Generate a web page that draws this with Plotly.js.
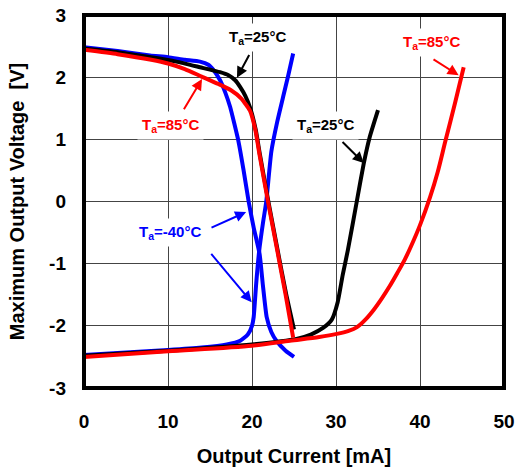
<!DOCTYPE html>
<html>
<head>
<meta charset="utf-8">
<script src="https://cdn.plot.ly/plotly-3.0.1.min.js"></script>
<style>html,body{margin:0;padding:0;background:#fff;}#chart{width:518px;height:471px;}</style>
</head>
<body>
<div id="chart"></div>
<script>
// ---- data ----
// Source side (voltage falling with current)
const blueSrcX  = [0, 4, 7.86, 10, 12, 13.8, 14.8, 15.5, 16.2, 16.8, 17.4, 17.9, 18.37, 19.0, 19.6, 20.2, 20.9, 21.3, 21.75, 22.3, 22.9, 24.0, 25.0];
const blueSrcY  = [2.48, 2.42, 2.35, 2.32, 2.28, 2.25, 2.2, 2.1, 1.95, 1.76, 1.52, 1.25, 0.98, 0.5, 0.0, -0.42, -0.84, -1.35, -1.86, -2.1, -2.24, -2.4, -2.5];
const blackSrcX = [0, 4, 8, 11, 13.8, 16.2, 17.2, 18.0, 18.6, 19.2, 19.8, 20.45, 20.95, 21.95, 23.1, 24.05, 25.0];
const blackSrcY = [2.46, 2.4, 2.32, 2.25, 2.16, 2.08, 2.03, 1.95, 1.84, 1.7, 1.5, 1.15, 0.75, 0.0, -0.82, -1.48, -2.06];
const redSrcX   = [0, 4, 8, 10, 12, 14, 16, 17.5, 18.7, 19.76, 20.4, 20.9, 21.9, 23.05, 24.0, 24.9];
const redSrcY   = [2.44, 2.37, 2.28, 2.22, 2.13, 2.01, 1.89, 1.79, 1.66, 1.46, 1.15, 0.75, 0.0, -0.82, -1.5, -2.19];
// Sink side (voltage rising with current)
const blueSnkX  = [0, 5, 10, 14, 17, 18.6, 19.5, 20.0, 20.2, 20.5, 20.85, 21.3, 21.7, 22.3, 23.0, 23.7, 24.3, 24.9];
const blueSnkY  = [-2.47, -2.43, -2.39, -2.35, -2.3, -2.24, -2.14, -2.0, -1.86, -1.32, -0.8, -0.35, 0.0, 0.8, 1.28, 1.68, 2.02, 2.38];
const blackSnkX = [0, 10, 20, 25.3, 27.0, 28.5, 29.5, 30.2, 30.8, 31.4, 32.5, 33.3, 34.0, 35.0];
const blackSnkY = [-2.48, -2.4, -2.3, -2.21, -2.14, -2.03, -1.9, -1.62, -1.18, -0.79, 0.02, 0.61, 1.03, 1.47];
const redSnkX   = [0, 10, 20, 24.5, 28, 30.1, 31.5, 32.5, 33.5, 34.5, 35.4, 36.4, 37.3, 38.2, 39.0, 40.0, 41.2, 42.1, 43.0, 44.2, 45.2];
const redSnkY   = [-2.5, -2.41, -2.32, -2.24, -2.18, -2.13, -2.08, -2.02, -1.9, -1.74, -1.57, -1.36, -1.15, -0.93, -0.7, -0.38, 0.07, 0.47, 0.96, 1.6, 2.16];

const xTicks = [0, 10, 20, 30, 40, 50];
const yTicks = [-3, -2, -1, 0, 1, 2, 3];
const xTitle = 'Output Current [mA]';
const yTitle = 'Maximum Output Voltage\u00a0\u00a0[V]';
const lbl25 = 'T<sub>a</sub>=25°C';
const lbl85 = 'T<sub>a</sub>=85°C';
const lblM40 = 'T<sub>a</sub>=-40°C';

const BLUE = '#0000ff', RED = '#ff0000', BLACK = '#000000';
const FONT = '"Liberation Sans", Arial, sans-serif';

function tr(x, y, c, sm) {
  return {x: x, y: y, type: 'scatter', mode: 'lines',
          line: {color: c, width: 4, shape: 'spline', smoothing: sm},
          hoverinfo: 'skip', showlegend: false};
}
const data = [
  tr(blueSrcX, blueSrcY, BLUE, 0.5), tr(blueSnkX, blueSnkY, BLUE, 0.5),
  tr(blackSrcX, blackSrcY, BLACK, 0.5), tr(blackSnkX, blackSnkY, BLACK, 0.5),
  tr(redSrcX, redSrcY, RED, 0.5), tr(redSnkX, redSnkY, RED, 0.8)
];

function label(text, x, y, c) {
  return {text: text, x: x, y: y, xref: 'x', yref: 'y', showarrow: false,
          bgcolor: '#ffffff', borderpad: 4,
          font: {family: FONT, size: 15, color: c, weight: 'bold'}};
}
function arrow(tx, ty, hx, hy, c) {
  return {text: '', x: hx, y: hy, ax: tx, ay: ty, xref: 'x', yref: 'y', axref: 'x', ayref: 'y',
          showarrow: true, arrowhead: 2, arrowsize: 1.1, arrowwidth: 2, arrowcolor: c, standoff: 0};
}

const annotations = [
  label(lbl25, 20.6, 2.64, BLACK),
  label(lbl85, 10.24, 1.22, RED),
  label(lblM40, 10.24, -0.5, BLUE),
  label(lbl25, 28.7, 1.22, BLACK),
  label(lbl85, 41.4, 2.56, RED),
  arrow(19.76, 2.38, 18.21, 1.99, BLACK),
  arrow(11.79, 1.46, 14.05, 1.97, RED),
  arrow(15.0, -0.43, 19.3, -0.17, BLUE),
  arrow(15.0, -0.82, 19.96, -1.62, BLUE),
  arrow(30.6, 0.98, 33.3, 0.62, BLACK),
  arrow(41.43, 2.3, 44.6, 2.03, RED)
];

const axisCommon = {
  showgrid: true, gridcolor: '#444444', gridwidth: 1, zeroline: false,
  showline: false, ticks: '', automargin: false,
  tickfont: {family: FONT, size: 19, color: '#000', weight: 'bold'}
};

const layout = {
  width: 518, height: 471,
  margin: {l: 84, r: 14, t: 15, b: 83},
  paper_bgcolor: '#ffffff', plot_bgcolor: '#ffffff',
  showlegend: false,
  xaxis: Object.assign({}, axisCommon, {
    range: [0, 50], tickvals: xTicks, ticktext: xTicks.map(String),
    ticklabelstandoff: 20,
    title: {text: xTitle, standoff: 17, font: {family: FONT, size: 20, color: '#000', weight: 'bold'}}
  }),
  yaxis: Object.assign({}, axisCommon, {
    range: [-3, 3], tickvals: yTicks, ticktext: yTicks.map(String),
    ticklabelstandoff: 17,
    title: {text: yTitle, standoff: 19, font: {family: FONT, size: 20, color: '#000', weight: 'bold'}}
  }),
  shapes: [{type: 'rect', xref: 'paper', yref: 'paper', x0: 0, x1: 1, y0: 0, y1: 1,
            line: {color: '#000', width: 4}, layer: 'above'}],
  annotations: annotations
};

Plotly.newPlot('chart', data, layout, {staticPlot: true, displayModeBar: false});
</script>
</body>
</html>
